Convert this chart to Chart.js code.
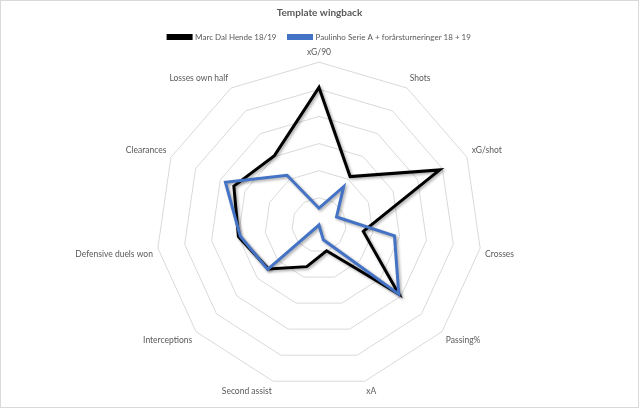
<!DOCTYPE html>
<html>
<head>
<meta charset="utf-8">
<script src="https://cdn.jsdelivr.net/npm/chart.js@4/dist/chart.umd.min.js"></script>
<style>
  html, body { margin: 0; padding: 0; background: #fff; }
  #wrap { width: 639px; height: 408px; box-sizing: border-box; border: 1px solid #d9d9d9; }
</style>
</head>
<body>
<div id="wrap"><canvas id="radar" width="637" height="406"></canvas></div>
<script>
// data
const labels = ['xG/90', 'Shots', 'xG/shot', 'Crosses', 'Passing%', 'xA', 'Second assist',
  'Interceptions', 'Defensive duels won', 'Clearances', 'Losses own half'];
const marcValues = [5.07, 2.12, 4.89, 1.65, 3.89, 0.99, 1.6, 2.47, 3.0, 3.45, 3.04];
const paulinhoValues = [0.62, 1.68, 0.71, 2.81, 3.89, 0.57, 0.0, 2.5, 2.93, 3.79, 2.18];

const textColor = '#595959';
const fontFamily = 'Lato, "Liberation Sans", sans-serif';

// legend sits tight on the plot, like in Excel
const legendSpacing = {
  id: 'legendSpacing',
  afterInit(chart) {
    const fit = chart.legend.fit;
    chart.legend.fit = function () {
      fit.call(this);
      this.height -= 8;
    };
  }
};

// soft drop shadow under the series lines
const lineShadow = {
  id: 'lineShadow',
  beforeDatasetDraw(chart) {
    const ctx = chart.ctx;
    ctx.save();
    ctx.shadowColor = 'rgba(0, 0, 0, 0.35)';
    ctx.shadowBlur = 3;
    ctx.shadowOffsetX = 1.5;
    ctx.shadowOffsetY = 1.5;
  },
  afterDatasetDraw(chart) {
    chart.ctx.restore();
  }
};

new Chart(document.getElementById('radar'), {
  type: 'radar',
  data: {
    labels: labels,
    datasets: [{
      label: 'Marc Dal Hende 18/19',
      data: marcValues,
      borderColor: '#000000',
      backgroundColor: '#000000',
      borderWidth: 3,
      borderJoinStyle: 'miter',
      pointRadius: 0,
      fill: false,
      order: 2
    }, {
      label: 'Paulinho Serie A + forårsturneringer 18 + 19',
      data: paulinhoValues,
      borderColor: '#4472C4',
      backgroundColor: '#4472C4',
      borderWidth: 3,
      borderJoinStyle: 'miter',
      pointRadius: 0,
      fill: false,
      order: 1
    }]
  },
  options: {
    responsive: false,
    animation: false,
    layout: { padding: { top: 0, bottom: 7, left: 0, right: 0 } },
    plugins: {
      title: {
        display: true,
        text: 'Template wingback',
        color: textColor,
        font: { family: fontFamily, size: 10, weight: 'bold' },
        padding: { top: 6, bottom: 2 }
      },
      legend: {
        display: true,
        position: 'top',
        labels: {
          color: textColor,
          font: { family: fontFamily, size: 8 },
          boxWidth: 23,
          boxHeight: 3,
          padding: 12,
          sort: (a, b) => a.datasetIndex - b.datasetIndex
        }
      },
      tooltip: { enabled: false }
    },
    scales: {
      r: {
        min: 0,
        max: 6,
        ticks: { display: false, stepSize: 1 },
        grid: { color: '#d9d9d9', lineWidth: 1, circular: false },
        angleLines: { display: false },
        pointLabels: {
          color: textColor,
          font: { family: fontFamily, size: 8.5 },
          padding: 5
        }
      }
    }
  },
  plugins: [legendSpacing, lineShadow]
});
</script>
</body>
</html>
